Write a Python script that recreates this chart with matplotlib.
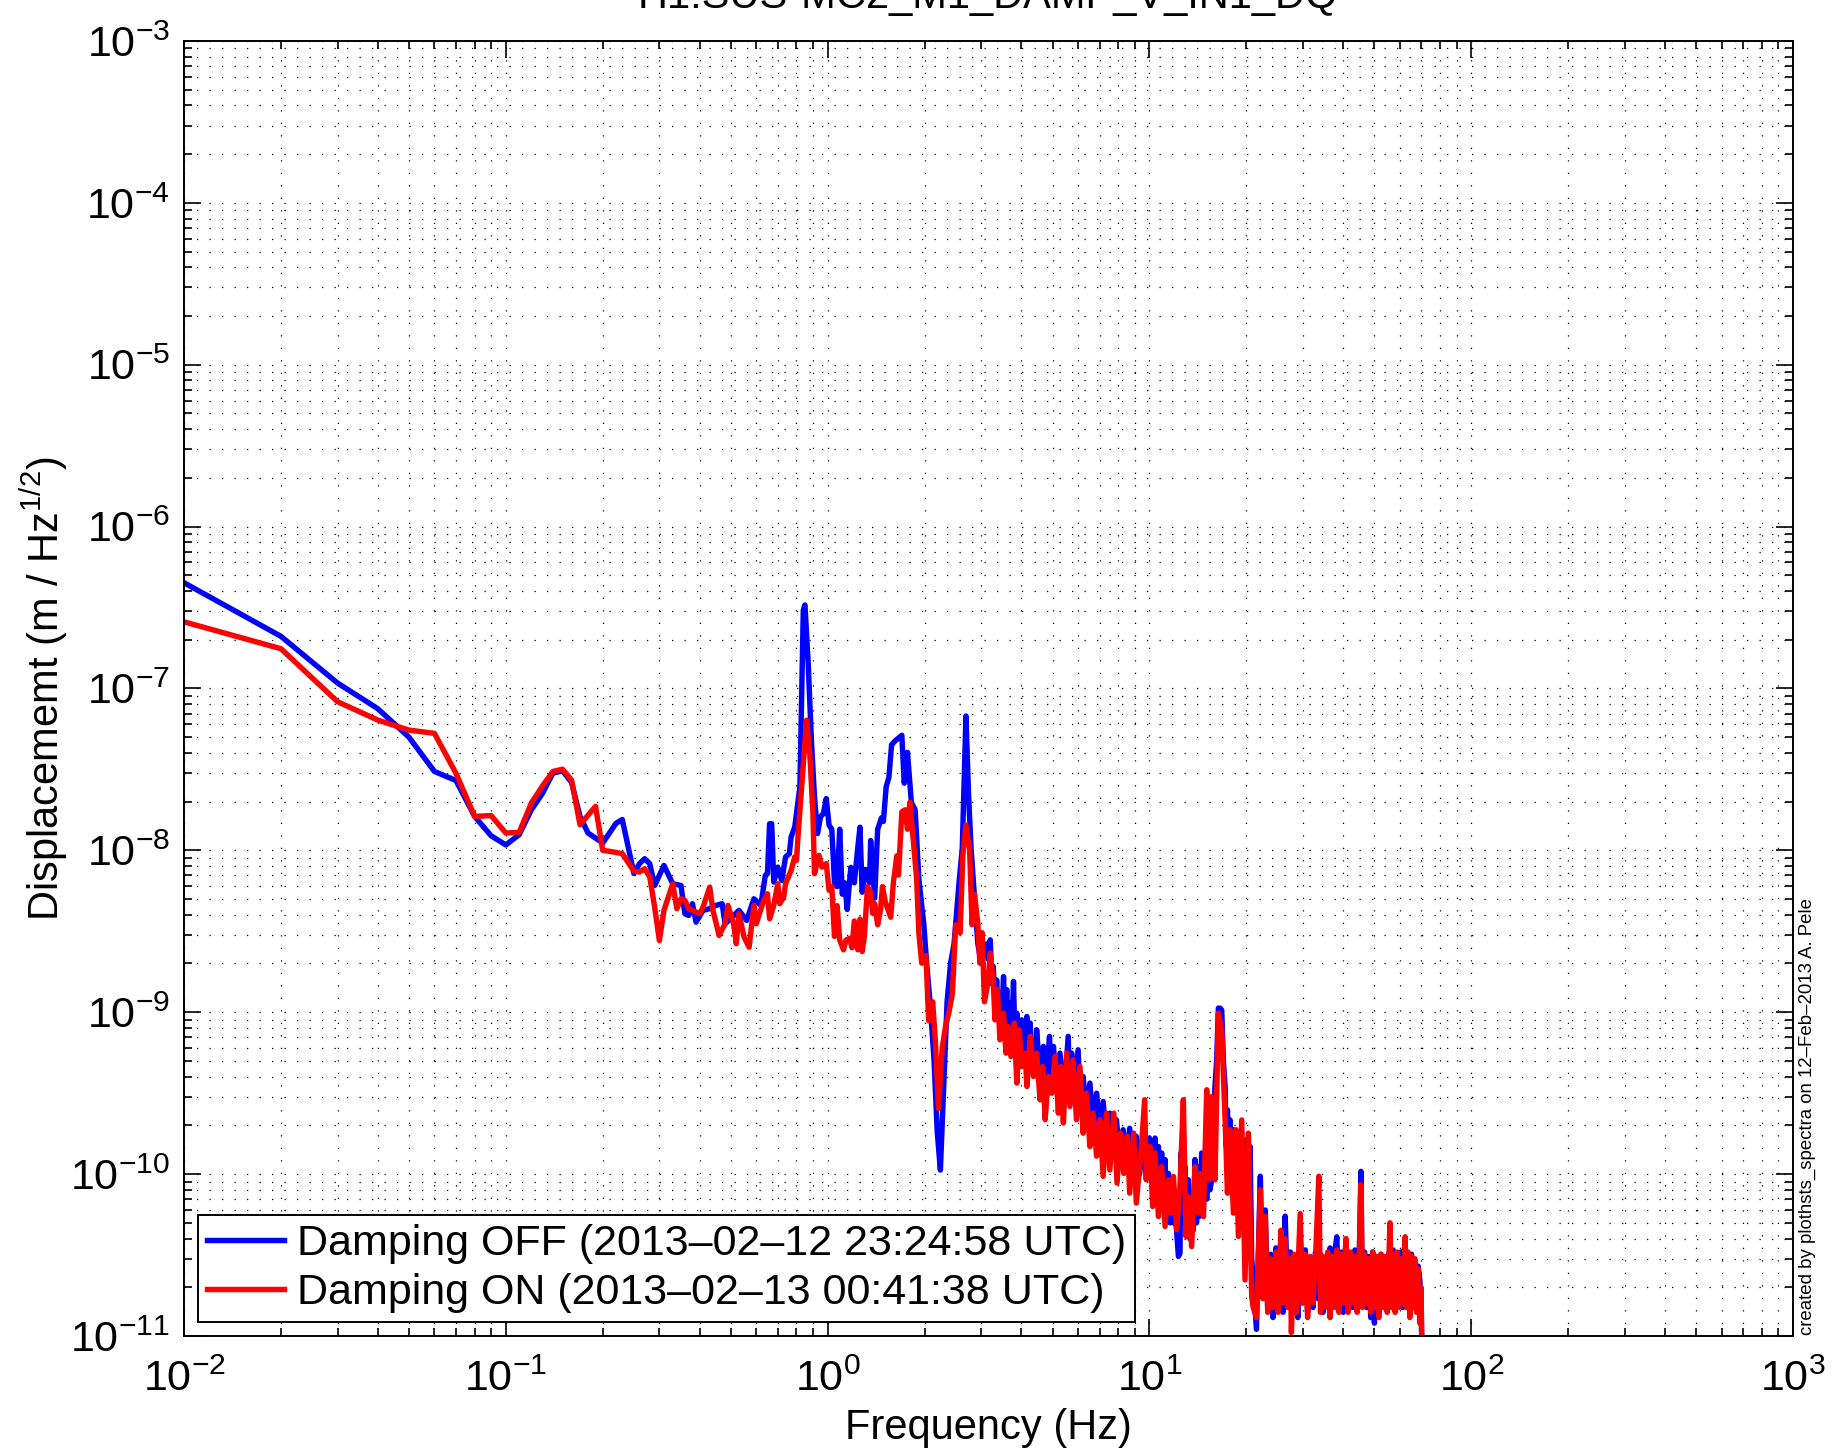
import matplotlib
matplotlib.use('Agg')
import matplotlib.pyplot as plt
import numpy as np

# ---- data (frequency in Hz, amplitude in m/sqrt(Hz)) ----
# Damping OFF (blue)
off_freq = [
    0.01, 0.02, 0.03, 0.04, 0.05, 0.06, 0.07, 0.08, 0.09, 0.10,
    0.11, 0.12, 0.13, 0.14, 0.15, 0.16, 0.17, 0.18, 0.20, 0.22,
    0.23, 0.25, 0.26, 0.27, 0.28, 0.29, 0.31, 0.33, 0.35, 0.36,
    0.37, 0.38, 0.39, 0.41, 0.43, 0.45, 0.47, 0.48, 0.50, 0.53,
    0.56, 0.59, 0.62, 0.64, 0.65, 0.66, 0.67, 0.68, 0.70, 0.72,
    0.74, 0.76, 0.77, 0.79, 0.82, 0.84, 0.85, 0.87, 0.89, 0.91,
    0.93, 0.95, 0.97, 0.99, 1.01, 1.03, 1.05, 1.07, 1.09, 1.11,
    1.13, 1.15, 1.18, 1.21, 1.24, 1.26, 1.28, 1.31, 1.35, 1.36,
    1.40, 1.43, 1.47, 1.49, 1.52, 1.55, 1.58, 1.62, 1.70, 1.73,
    1.77, 1.82, 1.87, 1.92, 1.99, 2.03, 2.08, 2.14, 2.19, 2.24,
    2.30, 2.35, 2.41, 2.47, 2.56, 2.62, 2.66, 2.69, 2.74, 2.79,
    2.86, 2.93, 3.00, 3.11, 3.16,
    3.20, 3.24, 3.27, 3.31, 3.35, 3.39, 3.43, 3.47, 3.52, 3.56,
    3.60, 3.64, 3.69, 3.73, 3.78, 3.82, 3.87, 3.94, 4.01, 4.08,
    4.16, 4.21, 4.26, 4.31, 4.36, 4.41, 4.46, 4.57, 4.68, 4.78,
    4.89, 4.96, 5.03, 5.15, 5.27, 5.43, 5.59, 5.66, 5.73, 5.86,
    6.00, 6.11, 6.22, 6.37, 6.53, 6.68, 6.85, 7.01, 7.18, 7.35,
    7.53, 7.71, 7.89, 8.08, 8.28, 8.48, 8.68, 8.89, 9.10, 9.32,
    9.55, 9.77, 10.0,
    10.23, 10.41, 10.53, 10.66, 10.78, 10.91, 11.05, 11.18, 11.31, 11.45,
    11.58, 11.72, 11.87, 12.01, 12.15, 12.30, 12.44, 12.52, 12.66, 12.90,
    13.05, 13.20, 13.35, 13.52, 13.68, 13.85, 14.0, 14.19, 14.36, 14.53,
    14.71, 14.88, 15.06, 15.24, 15.42, 15.60, 15.80, 15.98, 16.17, 16.37,
    16.57, 16.77, 16.97, 17.18, 17.32, 17.47, 17.63, 17.80, 18.0, 18.23,
    18.57, 18.89, 19.2, 19.58, 19.81, 20.05, 20.29, 20.54, 20.78,
    21.0, 21.5, 22.1, 22.5, 22.9, 23.3, 23.8, 24.2, 24.7, 25.1,
    25.6, 26.0, 26.4, 26.9, 27.4, 27.9, 28.4, 28.9, 29.4, 29.9,
    30.5, 31.0, 31.6, 32.2, 32.8, 33.4, 34.0, 34.6, 35.2, 35.8,
    36.4, 37.0, 37.6, 38.2, 38.8, 39.4, 40.0, 40.7, 41.4, 42.1,
    42.8, 43.5, 44.2, 44.9, 45.4, 45.9, 46.6, 47.3, 48.0, 48.7,
    49.4, 50.0, 50.8, 51.6, 52.4, 53.2, 54.0, 54.8, 55.6, 56.4,
    57.2, 58.0, 58.8, 59.6, 60.4, 61.2, 62.0, 62.8, 63.6, 64.4,
    65.2, 66.0, 66.8, 67.6, 68.4, 69.2, 69.8, 70.5,
]
off_amp = [
    4.5e-7, 2.1e-7, 1.08e-7, 7.5e-8, 5.0e-8, 3.07e-8, 2.7e-8, 1.62e-8, 1.23e-8, 1.08e-8,
    1.25e-8, 1.78e-8, 2.25e-8, 3.0e-8, 3.1e-8, 2.63e-8, 1.62e-8, 1.28e-8, 1.11e-8, 1.47e-8,
    1.55e-8, 7.2e-9, 8.27e-9, 8.88e-9, 8.27e-9, 6.07e-9, 8.07e-9, 6.22e-9, 6.07e-9, 4.06e-9,
    3.96e-9, 4.68e-9, 3.6e-9, 4.26e-9, 4.36e-9, 4.57e-9, 4.68e-9, 3.52e-9, 3.78e-9, 4.26e-9,
    3.69e-9, 5.02e-9, 4.57e-9, 7.0e-9, 7.18e-9, 1.46e-8, 1.46e-8, 6.37e-9, 7.88e-9, 6.52e-9,
    9.1e-9, 9.53e-9, 1.21e-8, 1.39e-8, 2.47e-8, 3.05e-7, 3.28e-7, 1.43e-7, 4.79e-8, 2.14e-8,
    1.27e-8, 1.61e-8, 1.69e-8, 2.09e-8, 1.43e-8, 1.35e-8, 6.3e-9, 5.97e-9, 1.35e-8, 5.36e-9,
    6.3e-9, 4.31e-9, 7.85e-9, 6.3e-9, 1.03e-8, 1.39e-8, 5.51e-9, 7.63e-9, 6.3e-9, 1.15e-8,
    5.07e-9, 1.35e-8, 1.59e-8, 1.51e-8, 2.47e-8, 2.83e-8, 4.49e-8, 4.74e-8, 5.14e-8, 2.6e-8,
    4.03e-8, 1.98e-8, 1.78e-8, 6.67e-9, 3.47e-9, 2.01e-9, 1.16e-9, 5.14e-10, 1.83e-10, 1.06e-10,
    3.92e-10, 1.16e-9, 2.01e-9, 2.64e-9, 6.3e-9, 1.03e-8, 3.06e-8, 6.76e-8, 2.21e-8, 1.03e-8,
    5.07e-9, 2.64e-9, 2.01e-9, 2.64e-9, 2.12e-9,
    2.8e-9, 1.5e-9, 1.92e-9, 1.1e-9, 1.58e-9, 1.0e-9, 1.31e-9, 8.5e-10, 1.66e-9, 8.0e-10,
    1.38e-9, 7.5e-10, 1.14e-9, 7.0e-10, 1.55e-9, 6.5e-10, 9.87e-10, 5.5e-10, 8.97e-10, 5.2e-10,
    9.41e-10, 4.8e-10, 8.57e-10, 4.5e-10, 6.5e-10, 4.3e-10, 7.79e-10, 4.0e-10, 6.15e-10, 3.8e-10,
    7.09e-10, 3.6e-10, 6.15e-10, 3.3e-10, 5.59e-10, 3.1e-10, 7.09e-10, 3.0e-10, 5.59e-10, 2.8e-10,
    5.86e-10, 2.6e-10, 4.01e-10, 2.3e-10, 3.65e-10, 2.0e-10, 3.16e-10, 1.8e-10, 2.81e-10, 1.6e-10,
    2.38e-10, 1.45e-10, 2.17e-10, 1.3e-10, 1.88e-10, 1.2e-10, 1.92e-10, 1.1e-10, 1.71e-10, 1.0e-10,
    1.79e-10, 9.5e-11, 1.67e-10,
    9.0e-11, 1.67e-10, 8.0e-11, 1.48e-10, 7.0e-11, 1.35e-10, 6.0e-11, 1.23e-10, 5.5e-11, 1.01e-10,
    5.0e-11, 9.22e-11, 5.0e-11, 5.74e-11, 4.4e-11, 3.1e-11, 3.25e-11, 1.35e-10, 5.0e-11, 1.11e-10,
    4.5e-11, 9.22e-11, 4.0e-11, 6.31e-11, 4.5e-11, 1.23e-10, 5.0e-11, 1.11e-10, 5.5e-11, 1.35e-10,
    6.0e-11, 1.35e-10, 7.0e-11, 1.48e-10, 8.0e-11, 9.22e-11, 2.0e-10, 3.48e-10, 5.0e-10, 1.06e-9,
    1.06e-9, 1.03e-9, 5.0e-10, 3.48e-10, 1.5e-10, 2.49e-10, 1.1e-10, 2.16e-10, 9.0e-11, 1.88e-10,
    7.0e-11, 1.71e-10, 6.0e-11, 9.22e-11, 4.0e-11, 1.63e-10, 5.0e-11, 1.48e-10, 3.0e-11,
    2.2e-11, 1.1e-11, 9.7e-11, 2.0e-11, 6.0e-11, 1.5e-11, 3.2e-11, 1.3e-11, 3.5e-11, 1.6e-11,
    3.0e-11, 1.4e-11, 5.5e-11, 1.7e-11, 3.3e-11, 1.5e-11, 3.1e-11, 1.3e-11, 4.0e-11, 1.6e-11,
    3.4e-11, 1.4e-11, 3.0e-11, 1.5e-11, 3.3e-11, 1.7e-11, 3.2e-11, 1.4e-11, 3.0e-11, 1.6e-11,
    3.5e-11, 1.5e-11, 3.2e-11, 4.1e-11, 1.6e-11, 3.3e-11, 1.4e-11, 3.6e-11, 1.7e-11, 3.2e-11,
    1.5e-11, 3.4e-11, 1.6e-11, 3.2e-11, 1.04e-10, 1.6e-11, 3.3e-11, 1.5e-11, 3.1e-11, 1.3e-11,
    3.3e-11, 1.2e-11, 3.0e-11, 1.5e-11, 3.2e-11, 1.6e-11, 3.0e-11, 1.5e-11, 3.3e-11, 1.7e-11,
    3.4e-11, 1.5e-11, 3.2e-11, 1.6e-11, 3.3e-11, 1.5e-11, 3.5e-11, 1.6e-11, 3.1e-11, 1.4e-11,
    3.2e-11, 1.7e-11, 2.9e-11, 2.0e-11, 2.7e-11, 2.2e-11, 1.5e-11, 6.0e-12,
]

# Damping ON (red)
on_freq = [
    0.01, 0.02, 0.03, 0.04, 0.05, 0.06, 0.07, 0.08, 0.09, 0.10,
    0.11, 0.12, 0.13, 0.14, 0.15, 0.16, 0.17, 0.19, 0.20, 0.21,
    0.23, 0.25, 0.26, 0.27, 0.28, 0.29, 0.30, 0.31, 0.33, 0.34,
    0.35, 0.36, 0.37, 0.38, 0.40, 0.41, 0.43, 0.44, 0.46, 0.48,
    0.49, 0.51, 0.52, 0.53, 0.55, 0.57, 0.59, 0.60, 0.63, 0.65,
    0.66, 0.68, 0.70, 0.71, 0.73, 0.74, 0.77, 0.79, 0.80, 0.81,
    0.83, 0.86, 0.88, 0.90, 0.91, 0.94, 0.96, 0.99, 1.01, 1.03,
    1.05, 1.07, 1.09, 1.12, 1.14, 1.17, 1.19, 1.21, 1.24, 1.26,
    1.28, 1.30, 1.33, 1.36, 1.38, 1.40, 1.43, 1.46, 1.48, 1.51,
    1.54, 1.57, 1.60, 1.64, 1.66, 1.70, 1.74, 1.77, 1.80, 1.85,
    1.89, 1.92, 1.96, 2.02, 2.06, 2.12, 2.16, 2.21, 2.27, 2.33,
    2.38, 2.44, 2.50, 2.58, 2.63, 2.69, 2.76, 2.81, 2.86, 2.93,
    2.97, 3.02, 3.07, 3.15,
    3.20, 3.27, 3.31, 3.37, 3.43, 3.52, 3.58, 3.64, 3.71, 3.80,
    3.87, 3.94, 4.01, 4.11, 4.16, 4.26, 4.36, 4.46, 4.57, 4.66,
    4.74, 4.85, 4.97, 5.09, 5.21, 5.30, 5.40, 5.53, 5.66, 5.79,
    5.93, 6.08, 6.22, 6.37, 6.53, 6.68, 6.85, 7.01, 7.18, 7.35,
    7.53, 7.75, 7.93, 8.12, 8.32, 8.52, 8.68, 8.93, 9.10, 9.44,
    9.66, 9.77,
    10.04, 10.23, 10.41, 10.66, 10.91, 11.18, 11.45, 11.64, 11.87, 12.15,
    12.44, 12.74, 12.99, 13.20, 13.52, 13.85, 14.19, 14.36, 14.71, 15.06,
    15.35, 15.60, 15.98, 16.17, 16.37, 16.77, 17.18, 17.47, 17.80, 18.23,
    18.57, 18.89, 19.35, 19.81, 20.29, 20.78,
    21.0, 21.5, 22.1, 22.5, 22.9, 23.3, 23.8, 24.2, 24.7, 25.1,
    25.6, 26.0, 26.4, 26.9, 27.4, 27.6, 28.1, 28.6, 29.4, 29.9,
    30.5, 31.0, 31.6, 32.2, 32.8, 33.6, 34.0, 34.6, 35.2, 35.8,
    36.4, 37.0, 37.6, 38.2, 38.8, 39.4, 40.0, 40.8, 41.4, 42.1,
    42.8, 43.5, 44.2, 44.9, 45.4, 45.9, 46.6, 47.3, 48.0, 48.7,
    49.4, 50.0, 50.8, 51.6, 52.4, 53.2, 54.0, 54.8, 55.9, 56.4,
    57.2, 58.0, 58.8, 59.6, 60.4, 61.2, 62.3, 62.8, 63.6, 64.4,
    65.2, 66.0, 66.8, 67.6, 68.4, 69.2, 69.8, 70.5,
]
on_amp = [
    2.58e-7, 1.76e-7, 8.28e-8, 6.38e-8, 5.53e-8, 5.28e-8, 2.99e-8, 1.62e-8, 1.64e-8, 1.28e-8,
    1.29e-8, 1.96e-8, 2.5e-8, 3.07e-8, 3.17e-8, 2.72e-8, 1.44e-8, 1.87e-8, 1.0e-8, 9.86e-9,
    9.55e-9, 7.43e-9, 7.35e-9, 7.7e-9, 6.84e-9, 4.46e-9, 2.77e-9, 4.26e-9, 6.22e-9, 4.36e-9,
    5.02e-9, 4.91e-9, 4.36e-9, 4.26e-9, 4.06e-9, 4.46e-9, 5.93e-9, 4.26e-9, 2.98e-9, 3.52e-9,
    4.57e-9, 3.52e-9, 2.65e-9, 4.06e-9, 2.91e-9, 2.52e-9, 4.57e-9, 3.52e-9, 4.79e-9, 5.39e-9,
    3.78e-9, 4.57e-9, 6.22e-9, 4.68e-9, 5.14e-9, 6.22e-9, 7.52e-9, 9.1e-9, 8.67e-9, 1.27e-8,
    2.47e-8, 6.37e-8, 3.96e-8, 1.69e-8, 7.18e-9, 9.31e-9, 7.88e-9, 8.28e-9, 5.66e-9, 5.97e-9,
    2.94e-9, 4.55e-9, 2.79e-9, 2.43e-9, 2.79e-9, 2.86e-9, 2.5e-9, 3.66e-9, 2.43e-9, 3.76e-9,
    2.37e-9, 2.94e-9, 5.97e-9, 5.51e-9, 4.08e-9, 4.68e-9, 3.47e-9, 4.31e-9, 5.97e-9, 4.81e-9,
    4.31e-9, 3.86e-9, 6.3e-9, 9.25e-9, 7.03e-9, 1.73e-8, 1.78e-8, 1.35e-8, 1.98e-8, 1.09e-8,
    6.67e-9, 3.1e-9, 2.01e-9, 2.24e-9, 8.87e-10, 1.16e-9, 6.76e-10, 2.54e-10, 6.05e-10, 8.4e-10,
    9.89e-10, 1.3e-9, 3.47e-9, 3.1e-9, 9.25e-9, 1.43e-8, 1.03e-8, 3.47e-9, 5.36e-9, 3.47e-9,
    2.01e-9, 3.1e-9, 1.16e-9, 1.53e-9,
    2.32e-9, 1.58e-9, 8.97e-10, 1.38e-9, 6.76e-10, 9.87e-10, 5.59e-10, 8.17e-10, 5.33e-10, 8.57e-10,
    3.65e-10, 7.79e-10, 4.62e-10, 5.59e-10, 3.48e-10, 7.09e-10, 4.01e-10, 5.59e-10, 2.88e-10, 4.62e-10,
    2.17e-10, 4.01e-10, 3.16e-10, 5.33e-10, 2.38e-10, 4.62e-10, 2.07e-10, 5.59e-10, 2.62e-10, 5.08e-10,
    2.17e-10, 4.62e-10, 1.79e-10, 3.16e-10, 1.48e-10, 2.38e-10, 1.29e-10, 2.17e-10, 9.68e-11, 2.38e-10,
    1.06e-10, 2.38e-10, 8.8e-11, 1.79e-10, 1.01e-10, 1.71e-10, 7.63e-11, 1.79e-10, 6.62e-11, 1.48e-10,
    2.88e-10, 9.23e-11,
    1.48e-10, 6.31e-11, 1.35e-10, 5.47e-11, 1.11e-10, 4.75e-11, 9.22e-11, 5.74e-11, 9.67e-11, 4.53e-11,
    8.38e-11, 2.88e-10, 4.12e-11, 7.27e-11, 3.57e-11, 1.11e-10, 5.74e-11, 1.01e-10, 5.47e-11, 3.32e-10,
    9.22e-11, 3.01e-10, 9.22e-11, 3.01e-10, 9.87e-10, 7.78e-10, 2.16e-10, 7.62e-11, 1.88e-10, 5.74e-11,
    1.88e-10, 4.12e-11, 2.16e-10, 2.22e-11, 1.79e-10, 1.75e-11,
    1.5e-11, 1.3e-11, 8.0e-11, 1.7e-11, 5.5e-11, 1.4e-11, 3.0e-11, 1.5e-11, 3.3e-11, 1.4e-11,
    4.5e-11, 1.6e-11, 4.0e-11, 1.5e-11, 3.0e-11, 1.05e-11, 3.2e-11, 1.4e-11, 5.7e-11, 1.6e-11,
    3.2e-11, 1.3e-11, 3.1e-11, 1.6e-11, 3.0e-11, 9.7e-11, 1.4e-11, 3.1e-11, 1.5e-11, 3.3e-11,
    1.3e-11, 3.1e-11, 1.5e-11, 3.4e-11, 1.4e-11, 3.2e-11, 1.6e-11, 4.0e-11, 1.4e-11, 3.3e-11,
    1.6e-11, 3.1e-11, 1.4e-11, 3.4e-11, 8.6e-11, 1.5e-11, 3.2e-11, 1.6e-11, 3.0e-11, 1.4e-11,
    3.3e-11, 1.5e-11, 3.1e-11, 1.3e-11, 3.2e-11, 1.5e-11, 3.1e-11, 1.4e-11, 5.0e-11, 1.5e-11,
    3.2e-11, 1.4e-11, 3.3e-11, 1.5e-11, 3.0e-11, 1.6e-11, 4.1e-11, 1.5e-11, 3.3e-11, 1.3e-11,
    3.1e-11, 1.5e-11, 3.0e-11, 1.4e-11, 2.6e-11, 1.2e-11, 2.0e-11, 5.0e-12,
]

label_off = 'Damping OFF (2013\u201302\u201312 23:24:58 UTC)'
label_on = 'Damping ON (2013\u201302\u201313 00:41:38 UTC)'
title = 'H1:SUS-MC2_M1_DAMP_V_IN1_DQ'
credit = 'created by plothsts_spectra on 12\u2013Feb\u20132013 A. Pele'
x_ticks = [1e-2, 1e-1, 1e0, 1e1, 1e2, 1e3]
x_ticklabels = [r'$10^{-2}$', r'$10^{-1}$', r'$10^{0}$', r'$10^{1}$', r'$10^{2}$', r'$10^{3}$']
y_ticks = [1e-11, 1e-10, 1e-9, 1e-8, 1e-7, 1e-6, 1e-5, 1e-4, 1e-3]
y_ticklabels = [r'$10^{-11}$', r'$10^{-10}$', r'$10^{-9}$', r'$10^{-8}$', r'$10^{-7}$',
                r'$10^{-6}$', r'$10^{-5}$', r'$10^{-4}$', r'$10^{-3}$']

# ---- styling ----
plt.rcParams['font.family'] = ['Liberation Sans', 'DejaVu Sans']
plt.rcParams['mathtext.fontset'] = 'custom'
plt.rcParams['mathtext.rm'] = 'Liberation Sans'
plt.rcParams['mathtext.it'] = 'Liberation Sans:italic'
plt.rcParams['mathtext.bf'] = 'Liberation Sans:bold'

fs = 30

fig = plt.figure(figsize=(18.44, 14.52), dpi=100)
ax = fig.add_axes([0.0998, 0.0799, 0.8726, 0.8919])

ax.plot(off_freq, off_amp, color=(0, 0, 1), lw=3.9, label=label_off)
ax.plot(on_freq, on_amp, color=(1, 0, 0), lw=3.9, label=label_on)

ax.set_xscale('log')
ax.set_yscale('log')
ax.set_xlim(1e-2, 1e3)
ax.set_ylim(1e-11, 1e-3)

ax.set_xticks(x_ticks)
ax.set_xticklabels(x_ticklabels)
ax.set_yticks(y_ticks)
ax.set_yticklabels(y_ticklabels)
ax.xaxis.set_minor_locator(matplotlib.ticker.LogLocator(base=10, subs=np.arange(2, 10), numticks=100))
ax.yaxis.set_minor_locator(matplotlib.ticker.LogLocator(base=10, subs=np.arange(2, 10), numticks=100))
ax.xaxis.set_minor_formatter(matplotlib.ticker.NullFormatter())
ax.yaxis.set_minor_formatter(matplotlib.ticker.NullFormatter())

ax.tick_params(which='both', direction='in', top=True, right=True, labelsize=31, width=1.2)
ax.tick_params(which='major', length=12)
ax.tick_params(which='minor', length=6)
ax.tick_params(axis='x', which='major', pad=17)
ax.tick_params(axis='y', which='major', pad=10)

ax.grid(True, which='both', color='k', linestyle=(0, (1, 9)), linewidth=0.9)
ax.set_axisbelow(True)
for sp in ax.spines.values():
    sp.set_linewidth(1.4)

ax.set_xlabel('Frequency (Hz)', fontsize=fs, labelpad=6)
ax.set_ylabel(r'Displacememt (m / Hz$^{1/2}$)', fontsize=fs, labelpad=0)

leg = ax.legend(loc='lower left', fontsize=31, fancybox=False, edgecolor='k', framealpha=1,
                borderaxespad=0.33, handlelength=1.8, handletextpad=0.3,
                labelspacing=0.22, borderpad=0.2)
leg.get_frame().set_linewidth(1.4)

# title is clipped by the top edge in the reference
fig.text(0.5359, 1 - 8 / 1452, title, fontsize=fs, ha='center', va='baseline')
fig.text(1807 / 1844, 0.0805, credit, fontsize=13.4, rotation=90, ha='center', va='bottom')

fig.savefig('out.png', dpi=100)
